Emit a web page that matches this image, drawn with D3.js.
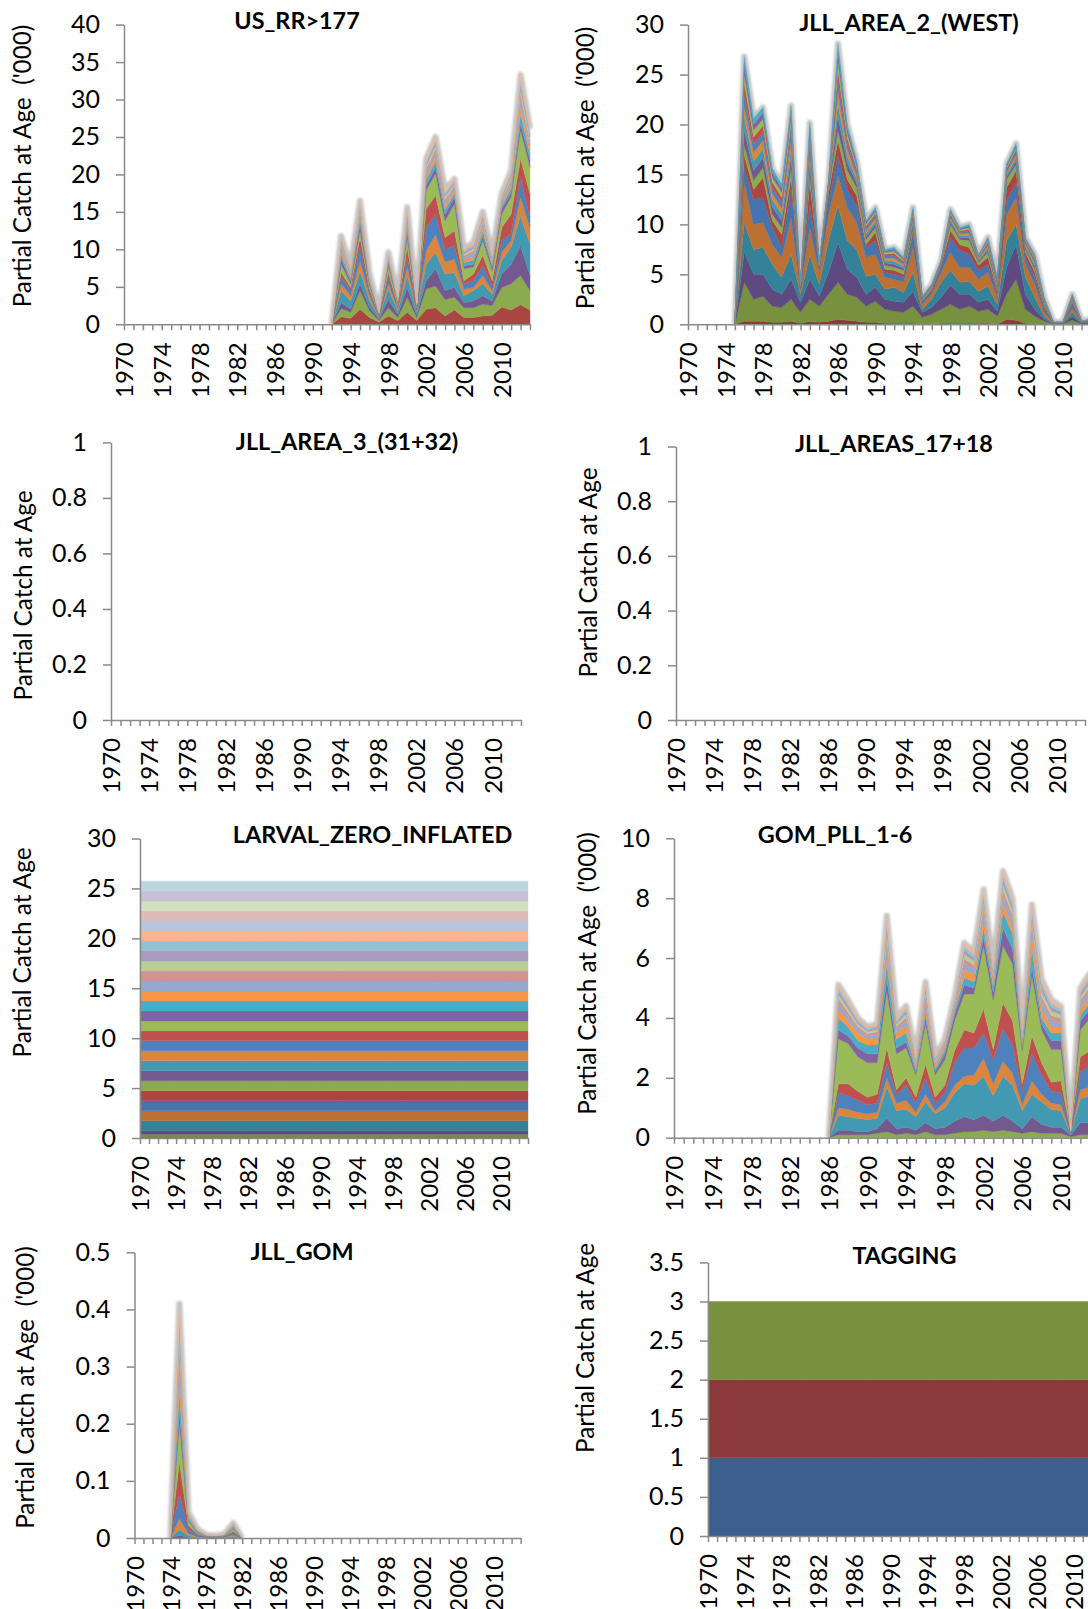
<!DOCTYPE html>
<html lang="en">
<head>
<meta charset="UTF-8">
<title>Partial catch at age</title>
<style>
  html, body { margin: 0; padding: 0; background: #fff; }
  svg { display: block; }
  text { font-family: Lato, "Open Sans", sans-serif; fill: #000; }
  .axis path, .axis line { stroke: #8a8a8a; stroke-width: 1.5; fill: none; }
  .axis text { font-size: 24px; fill: #000; }
  .y-axis text { font-size: 25px; }
  .panel-title { font-size: 23.4px; font-weight: 700; text-anchor: middle; }
  .y-title { font-size: 24.3px; text-anchor: middle; white-space: pre; }
</style>
</head>
<body>
<svg id="chart" width="1088" height="1609"></svg>
<script src="https://d3js.org/d3.v7.min.js"></script>
<script>
// ---- categories ----
const firstYear = 1970
const lastYear = 2013
const yearLabels = [1970, 1974, 1978, 1982, 1986, 1990, 1994, 1998, 2002, 2006, 2010]

// ---- y tick labels per panel ----
const usrrTicks = [0, 5, 10, 15, 20, 25, 30, 35, 40]
const area2Ticks = [0, 5, 10, 15, 20, 25, 30]
const unitTicks = [0, 0.2, 0.4, 0.6, 0.8, 1]
const larvalTicks = [0, 5, 10, 15, 20, 25, 30]
const gomPllTicks = [0, 2, 4, 6, 8, 10]
const jllGomTicks = [0, 0.1, 0.2, 0.3, 0.4, 0.5]
const taggingTicks = [0, 0.5, 1, 1.5, 2, 2.5, 3, 3.5]

// ---- US_RR>177 : ages 8..24, years 1992..2013 ----
const usrrFirst = 1992
const usrrAges = [8, 9, 10, 11, 12, 13, 14, 15, 16, 17, 18, 19, 20, 21, 22, 23, 24]
const usrrCatch = [
  [0,1.0,0.8,2.0,0.9,0.3,1.1,0.5,1.6,0.5,2.0,2.2,1.1,1.9,0.9,0.9,1.1,1.2,2.3,1.9,2.6,1.9],
  [0,1.1,0.8,2.5,0.9,0.2,1.1,0.4,2.0,0.4,2.7,2.9,2.2,1.7,1.3,1.3,1.6,1.3,2.6,3.5,3.9,2.6],
  [0,0.8,0.4,0.9,0.5,0.2,1.1,0.4,1.3,0.3,1.1,2.3,1.2,1.3,0.7,0.9,1.1,0.6,1.8,2.6,4.0,2.0],
  [0,1.6,1.1,1.7,0.9,0.2,1.4,0.5,1.6,0.5,2.2,2.2,2.2,2.0,0.9,1.4,1.6,0.9,1.8,2.3,4.0,4.2],
  [0,0.9,0.7,1.4,0.6,0.1,0.7,0.3,1.1,0.2,1.8,2.4,1.6,1.8,0.9,0.4,1.1,0.5,1.1,0.9,2.5,2.2],
  [0,0.9,0.7,1.8,0.5,0.1,0.9,0.2,1.3,0.2,3.1,2.7,1.7,1.8,0.7,0.9,1.3,0.6,1.6,0.9,2.6,1.4],
  [0,0.6,0.4,1.3,0.4,0.1,0.6,0.2,1.4,0.1,2.5,2.5,1.6,2.0,0.4,0.9,1.4,0.7,1.7,2.6,2.5,3.1],
  [0,1.1,0.5,0.9,0.5,0.1,0.9,0.3,1.3,0.2,2.5,2.9,2.2,3.6,1.6,0.9,2.0,1.3,1.8,2.3,3.8,3.6],
  [0,0.7,0.4,0.9,0.3,0.1,0.5,0.2,0.7,0.1,0.6,0.9,0.9,0.9,0.4,0.4,0.6,0.5,0.7,0.6,0.9,0.9],
  [0,.62,.36,.62,.26,.06,.26,.12,.66,.08,.72,.8,.64,.48,.44,.58,.64,.32,.4,.58,1.3,.84],
  [0,.47,.27,.47,.2,.05,.2,.09,.5,.06,.54,.6,.48,.36,.33,.44,.48,.24,.3,.44,.98,.63],
  [0,.43,.25,.43,.18,.04,.18,.08,.46,.06,.5,.56,.45,.34,.31,.41,.45,.22,.28,.41,.91,.59],
  [0,.37,.22,.37,.16,.04,.16,.07,.4,.05,.43,.48,.38,.29,.26,.35,.38,.19,.24,.35,.78,.5],
  [0,.34,.2,.34,.14,.03,.14,.07,.36,.04,.4,.44,.35,.26,.24,.32,.35,.18,.22,.32,.72,.46],
  [0,.31,.18,.31,.13,.03,.13,.06,.33,.04,.36,.4,.32,.24,.22,.29,.32,.16,.2,.29,.65,.42],
  [0,.28,.16,.28,.12,.03,.12,.05,.3,.04,.32,.36,.29,.22,.2,.26,.29,.14,.18,.26,.59,.38],
  [0,.28,.16,.28,.12,.03,.12,.05,.3,.04,.32,.36,.29,.22,.2,.26,.29,.14,.18,.26,.58,.38]
]

// ---- JLL_AREA_2_(WEST) : ages 2..17, years 1975..2013 ----
const area2First = 1975
const area2Ages = [2, 3, 4, 5, 6, 7, 8, 9, 10, 11, 12, 13, 14, 15, 16, 17]
const area2Catch = [
  [0,0.3,0.3,0.3,0.2,0.2,0.3,0.1,0.3,0.2,0.3,0.5,0.4,0.3,0.2,0.2,0.1,0.1,0.1,0.1,0,0,0.1,0.1,0.1,0.1,0.1,0.1,0,0.5,0.4,0.1,0,0,0,0,0,0,0],
  [0,3.9,2.2,2.5,1.6,1.5,2.2,1.1,2.2,1.6,2.7,3.7,2.6,2.4,1.6,2.1,1.4,1.2,1.1,1.7,0.7,1.0,1.4,1.9,1.4,1.7,1.2,1.4,0.8,2.5,4.1,1.4,0.8,0.3,0.05,0.05,0.4,0.05,0.1],
  [0,3.0,2.5,2.2,1.7,1.3,2.0,1.0,2.0,1.0,2.2,4.0,2.5,2.0,1.2,1.4,1.0,1.0,1.0,1.5,0.5,0.7,1.2,1.9,1.5,1.2,0.9,1.0,0.5,2.7,3.5,1.5,0.7,0.2,0.03,0.03,0.4,0.05,0.1],
  [0,3.0,2.5,2.7,2.5,1.7,2.5,0.8,2.4,1.2,3.2,3.7,2.9,2.8,1.8,1.3,1.0,1.4,1.0,1.9,0.3,0.8,1.5,1.5,1.2,1.3,1.1,1.3,0.7,2.7,2.0,1.7,1.2,0.3,0.02,0.02,0.4,0.05,0.05],
  [0,4.0,2.5,2.5,2.0,2.0,3.7,0.5,2.8,1.2,2.6,3.0,3.3,2.7,1.9,2.0,1.2,0.8,1.0,2.5,0.5,0.5,1.0,1.8,1.5,1.4,1.2,1.4,0.7,2.6,2.7,1.3,1.3,0.4,0.02,0.02,0.4,0.05,0.05],
  [0,1.5,2.5,2.5,1.7,1.0,3.0,0.2,2.3,0.5,1.4,2.0,1.8,1.7,1.0,1.4,0.5,0.5,0.5,1.3,0.3,0.3,0.5,1.5,1.7,1.3,0.9,0.8,0.5,1.4,1.5,0.7,0.7,0.3,0.01,0.01,0.4,0.02,0.05],
  [0,1.3,1.0,2.0,0.7,1.3,1.0,0.05,2.2,0.1,0.8,1.5,1.0,1.0,0.3,0.8,0.3,0.4,0.3,0.3,0.1,0.15,0.2,0.7,0.6,0.7,0.5,0.7,0.2,1.3,1.2,0.5,0.5,0.3,0.01,0.01,0.2,0.02,0.03],
  [0,1.0,0.9,1.0,0.6,0.7,1.0,0.05,0.8,0.05,0.4,1.0,0.9,0.8,0.5,0.5,0.4,0.3,0.4,0.3,0.1,0.15,0.1,0.6,0.5,0.7,0.3,0.5,0.2,0.8,0.6,0.3,0.3,0.2,0.01,0.01,0.2,0.01,0.02],
  [0,1.41,0.99,0.96,0.74,0.69,0.99,0.03,0.83,0.02,0.13,1.39,0.74,0.43,0.3,0.32,0.26,0.32,0.21,0.34,0.05,0.06,0.06,0.24,0.19,0.26,0.13,0.24,0.18,0.26,0.34,0.19,0.24,0.11,0.01,0.01,0.1,0.01,0.02],
  [0,1.32,0.93,0.9,0.69,0.65,0.93,0.03,0.78,0.02,0.12,1.31,0.69,0.41,0.29,0.3,0.24,0.3,0.2,0.32,0.05,0.06,0.06,0.23,0.18,0.24,0.12,0.23,0.17,0.24,0.32,0.18,0.23,0.11,0.01,0.01,0.09,0.01,0.02],
  [0,1.23,0.87,0.84,0.64,0.6,0.87,0.03,0.73,0.02,0.11,1.22,0.64,0.38,0.27,0.28,0.22,0.28,0.18,0.29,0.04,0.06,0.06,0.21,0.17,0.22,0.11,0.21,0.15,0.22,0.29,0.17,0.21,0.1,0.01,0.01,0.08,0.01,0.01],
  [0,1.14,0.81,0.78,0.6,0.56,0.81,0.03,0.68,0.02,0.1,1.13,0.6,0.35,0.25,0.26,0.21,0.26,0.17,0.27,0.04,0.05,0.05,0.2,0.16,0.21,0.1,0.2,0.14,0.21,0.27,0.16,0.2,0.09,0.01,0.01,0.08,0.01,0.01],
  [0,1.06,0.74,0.72,0.55,0.52,0.74,0.02,0.62,0.02,0.1,1.04,0.55,0.32,0.23,0.24,0.19,0.24,0.16,0.25,0.04,0.05,0.05,0.18,0.14,0.19,0.1,0.18,0.13,0.19,0.25,0.14,0.18,0.08,0.01,0.01,0.07,0.01,0.01],
  [0,0.97,0.68,0.66,0.51,0.47,0.68,0.02,0.57,0.02,0.09,0.96,0.51,0.3,0.21,0.22,0.18,0.22,0.14,0.23,0.03,0.04,0.04,0.17,0.13,0.18,0.09,0.17,0.12,0.18,0.23,0.13,0.17,0.08,0.01,0.01,0.07,0.01,0.01],
  [0,0.88,0.62,0.6,0.46,0.43,0.62,0.02,0.52,0.02,0.08,0.87,0.46,0.27,0.19,0.2,0.16,0.2,0.13,0.21,0.03,0.04,0.04,0.15,0.12,0.16,0.08,0.15,0.11,0.16,0.21,0.12,0.15,0.07,0,0,0.06,0,0.01],
  [0,0.79,0.56,0.54,0.41,0.39,0.56,0.02,0.47,0.01,0.07,0.78,0.41,0.24,0.17,0.18,0.14,0.18,0.12,0.19,0.03,0.04,0.04,0.14,0.11,0.14,0.07,0.14,0.1,0.14,0.19,0.11,0.14,0.06,0,0,0.05,0,0.01]
]

// ---- LARVAL_ZERO_INFLATED : flat over all years, ages 1..29 ----
const larvalAges = d3.range(1, 30)
const larvalByAge = [0.03, 0.04, 0.3, 0.36, 1, 1, 1, 1, 1, 1, 1, 1, 1, 1, 1, 1, 1, 1, 1, 1, 1, 1, 1, 1, 1, 1, 1, 1, 1]

// ---- GOM_PLL_1-6 : ages 9..24, years 1986..2013 ----
const gomFirst = 1986
const gomAges = [9, 10, 11, 12, 13, 14, 15, 16, 17, 18, 19, 20, 21, 22, 23, 24]
const gomCatch = [
  [0,.1,.1,.1,.1,.15,.2,.1,.15,.1,.2,.1,.1,.15,.2,.2,.25,.2,.25,.2,.15,.2,.15,.15,.15,.03,.1,.1],
  [0,.15,.15,.1,.1,.15,.45,.2,.2,.15,.3,.2,.25,.4,.5,.4,.5,.35,.5,.35,.15,.5,.3,.2,.2,.05,.4,.4],
  [0,.5,.45,.45,.4,.35,1.05,.6,.6,.45,.7,.5,.65,.95,1.1,1.15,1.3,.85,1.3,1.2,.6,.75,.75,.6,.55,.05,.8,.9],
  [0,.25,.25,.2,.2,.2,.3,.25,.3,.15,.25,.1,.2,.25,.25,.35,.6,.4,.5,.4,.2,.45,.25,.2,.2,.02,.3,.3],
  [0,.5,.45,.4,.3,.3,.5,.3,.5,.3,.55,.25,.3,.75,.95,.9,.85,.8,1.1,.95,.45,.9,.65,.4,.4,.02,.6,.7],
  [0,.3,.4,.3,.25,.3,.5,.15,.25,.2,.45,.2,.25,.4,.6,.5,.8,.35,.85,.8,.25,.6,.4,.3,.4,.02,.5,.5],
  [0,1.5,1.35,1.15,1.15,1.05,1.9,1.2,1.0,.75,1.35,.75,.85,1.0,1.2,1.3,2.1,1.65,1.9,1.9,1.1,2.0,1.1,1.1,1.05,.02,.9,1.1],
  [0,.3,.25,.3,.3,.3,.4,.2,.2,.1,.2,.1,.2,.2,.3,.2,.3,.25,.6,.5,.1,.3,.2,.3,.3,.01,.3,.3],
  [0,.4,.3,.25,.3,.3,.5,.3,.3,.1,.2,.1,.15,.15,.25,.2,.3,.2,.55,.5,.1,.6,.2,.25,.25,.01,.2,.2],
  [0,.3,.2,.25,.2,.25,.2,.2,.25,.1,.2,.1,.1,.1,.25,.25,.3,.15,.3,.2,.1,.4,.3,.2,.2,.01,.2,.2],
  [0,.18,.15,.11,.09,.1,.31,.11,.14,.07,.18,.07,.06,.08,.2,.17,.22,.11,.23,.22,.09,.24,.22,.2,.15,0,.15,.18],
  [0,.16,.14,.1,.08,.09,.28,.1,.13,.06,.16,.06,.05,.07,.18,.15,.2,.1,.21,.2,.08,.22,.2,.18,.14,0,.14,.16],
  [0,.14,.12,.09,.07,.08,.24,.09,.11,.05,.14,.05,.04,.06,.15,.13,.17,.09,.18,.17,.07,.19,.17,.15,.12,0,.12,.14],
  [0,.12,.1,.07,.06,.07,.21,.07,.1,.05,.12,.05,.04,.05,.14,.11,.15,.07,.16,.15,.06,.16,.15,.14,.1,0,.1,.12],
  [0,.11,.1,.07,.06,.06,.2,.07,.09,.04,.11,.04,.03,.05,.13,.1,.14,.07,.15,.14,.06,.15,.14,.13,.1,0,.1,.11],
  [0,.1,.08,.06,.05,.05,.17,.06,.08,.04,.1,.04,.03,.04,.11,.09,.12,.06,.13,.12,.05,.13,.12,.11,.08,.01,.08,.1]
]

// ---- JLL_GOM : ages 10..24, years 1974..1982 ----
const jllGomFirst = 1974
const jllGomAges = [10, 11, 12, 13, 14, 15, 16, 17, 18, 19, 20, 21, 22, 23, 24]
const jllGomCatch = [
  [0,.005,.001,0,0,0,0,.001,0],
  [0,.01,.003,.001,.0005,.0004,.0005,.002,0],
  [0,.019,.004,.001,.0005,.0004,.0006,.002,0],
  [0,.044,.008,.003,.001,.0008,.0012,.004,0],
  [0,.055,.006,.002,.0008,.0006,.001,.003,0],
  [0,.067,.007,.002,.0008,.0006,.001,.004,0],
  [0,.02,.002,.001,.0003,.0003,.0004,.001,0],
  [0,.035,.004,.002,.0005,.0004,.0006,.003,0],
  [0,.03,.003,.001,.0003,.0003,.0004,.002,0],
  [0,.028,.002,.0006,.0002,.0002,.0003,.001,0],
  [0,.025,.0015,.0005,.0002,.0002,.0002,.001,0],
  [0,.021,.001,.0005,.0002,.0001,.0002,.0007,0],
  [0,.019,.001,.0004,.0001,.0001,.0002,.0006,0],
  [0,.017,.001,.0004,.0001,.0001,.0001,.0005,0],
  [0,.015,.0005,.0003,.0001,.0001,.0001,.0004,0]
]

// ---- TAGGING : flat over all years, ages 1..3 ----
const taggingAges = [1, 2, 3]
const taggingByAge = [1, 1, 1]

// Excel-like colour cycle by age (1-based)
const ageColors = [
  '#3C5F8F', '#8C3A39', '#77913F', '#5F4A80', '#34829A', '#BC7133',
  '#4674AE', '#AB4542', '#8CAB4E', '#74598F', '#4399B1', '#DC853D',
  '#4F81BD', '#C0504D', '#9BBB59', '#8064A2', '#4BACC6', '#F79646',
  '#93A9CF', '#D19392', '#B9CD96', '#A99BBD', '#92C3D4', '#F9B590',
  '#B9C4DE', '#DEBAB9', '#D2DFC0', '#C9C0D6', '#BCD6E0', '#FBCFB5'
]

const svg = d3.select('#chart')
svg.append('defs').append('filter')
    .attr('id', 'soft')
    .attr('x', '-5%').attr('y', '-5%').attr('width', '110%').attr('height', '110%')
    .append('feGaussianBlur')
    .attr('stdDeviation', 1.1)

const allYears = d3.range(firstYear, lastYear + 1)

// rows for series given year by year
function rowsFromSeries(first, ages, values) {
    return values[0].map((_, i) => {
        const r = { year: first + i }
        ages.forEach((a, k) => { r[a] = values[k][i] || 0 })
        return r
    })
}

// rows for series that are flat over the years
function rowsFromFlat(ages, byAge) {
    return allYears.map(yr => {
        const r = { year: yr }
        ages.forEach((a, k) => { r[a] = byAge[k] })
        return r
    })
}

const panels = [
    { title: 'US_RR>177', x0: 124, x1: 530, yTop: 24.6, yBottom: 324.3, ticks: usrrTicks,
      titleX: 297, titleY: 29.3, yLabel: "Partial Catch at Age  ('000)", yLabelX: 30.5, yLabelY: 166,
      ages: usrrAges, rows: rowsFromSeries(usrrFirst, usrrAges, usrrCatch), halo: true },
    { title: 'JLL_AREA_2_(WEST)', x0: 688, x1: 1091, yTop: 24.6, yBottom: 324.3, ticks: area2Ticks,
      titleX: 909, titleY: 30.5, yLabel: "Partial Catch at Age  ('000)", yLabelX: 594, yLabelY: 168,
      ages: area2Ages, rows: rowsFromSeries(area2First, area2Ages, area2Catch), halo: true },
    { title: 'JLL_AREA_3_(31+32)', x0: 111, x1: 521, yTop: 442.4, yBottom: 720, ticks: unitTicks,
      titleX: 347, titleY: 450, yLabel: 'Partial Catch at Age', yLabelX: 32, yLabelY: 595.5 },
    { title: 'JLL_AREAS_17+18', x0: 676, x1: 1085, yTop: 446.5, yBottom: 720, ticks: unitTicks,
      titleX: 894, titleY: 451.7, yLabel: 'Partial Catch at Age', yLabelX: 596.7, yLabelY: 572.5 },
    { title: 'LARVAL_ZERO_INFLATED', x0: 140, x1: 528, yTop: 838.5, yBottom: 1138, ticks: larvalTicks,
      titleX: 372.6, titleY: 843.3, yLabel: 'Partial Catch at Age', yLabelX: 31, yLabelY: 952.5,
      ages: larvalAges, rows: rowsFromFlat(larvalAges, larvalByAge) },
    { title: 'GOM_PLL_1-6', x0: 674, x1: 1090, yTop: 838.3, yBottom: 1137.7, ticks: gomPllTicks,
      titleX: 835, titleY: 843.3, yLabel: "Partial Catch at Age  ('000)", yLabelX: 596, yLabelY: 973.5,
      ages: gomAges, rows: rowsFromSeries(gomFirst, gomAges, gomCatch), halo: true },
    { title: 'JLL_GOM', x0: 134.5, x1: 520.6, yTop: 1252.3, yBottom: 1538, ticks: jllGomTicks,
      titleX: 302, titleY: 1260, yLabel: "Partial Catch at Age  ('000)", yLabelX: 34, yLabelY: 1387.5,
      ages: jllGomAges, rows: rowsFromSeries(jllGomFirst, jllGomAges, jllGomCatch), halo: true },
    { title: 'TAGGING', x0: 708, x1: 1101, yTop: 1262.4, yBottom: 1536, ticks: taggingTicks,
      titleX: 904.5, titleY: 1264, yLabel: 'Partial Catch at Age', yLabelX: 594, yLabelY: 1348,
      ages: taggingAges, rows: rowsFromFlat(taggingAges, taggingByAge) }
]

panels.forEach(drawPanel)

function drawPanel(p) {
    const g = svg.append('g')

    const x = d3.scaleLinear().domain([firstYear, lastYear]).range([p.x0, p.x1])
    const y = d3.scaleLinear().domain([0, d3.max(p.ticks)]).range([p.yBottom, p.yTop])

    if (p.rows) {
        const stacked = d3.stack().keys(p.ages)(p.rows)
        const area = d3.area()
            .x(d => x(d.data.year))
            .y0(d => y(d[0]))
            .y1(d => y(d[1]))

        // grey fringe along the top of the stack
        if (p.halo) {
            const top = stacked[stacked.length - 1]
            g.append('path')
                .attr('d', d3.line().x(d => x(d.data.year)).y(d => y(d[1]))(top))
                .attr('fill', 'none')
                .attr('stroke', '#c4c4c4')
                .attr('stroke-width', 6)
                .attr('stroke-linejoin', 'round')
                .attr('filter', 'url(#soft)')
        }

        g.append('g')
            .selectAll('path')
            .data(stacked)
            .join('path')
            .attr('fill', s => ageColors[s.key - 1])
            .attr('stroke', s => ageColors[s.key - 1])
            .attr('stroke-width', 0.4)
            .attr('d', area)
    }

    // y axis
    g.append('g')
        .attr('class', 'axis y-axis')
        .attr('transform', `translate(${p.x0},0)`)
        .call(d3.axisLeft(y)
            .tickValues(p.ticks)
            .tickSize(8)
            .tickSizeOuter(0)
            .tickPadding(16)
            .tickFormat(d => String(+d.toFixed(2))))

    // x axis: a tick each year, label every fourth
    const xAxis = g.append('g')
        .attr('class', 'axis')
        .attr('transform', `translate(0,${p.yBottom})`)
        .call(d3.axisBottom(x)
            .tickValues(allYears)
            .tickSize(6)
            .tickSizeOuter(0)
            .tickFormat(d => yearLabels.includes(d) ? String(d) : ''))

    xAxis.selectAll('text')
        .attr('transform', 'rotate(-90)')
        .attr('text-anchor', 'end')
        .attr('x', -18)
        .attr('y', 0)
        .attr('dy', '0.36em')

    g.append('text')
        .attr('class', 'panel-title')
        .attr('x', p.titleX)
        .attr('y', p.titleY)
        .text(p.title)

    g.append('text')
        .attr('class', 'y-title')
        .attr('transform', `translate(${p.yLabelX},${p.yLabelY}) rotate(-90)`)
        .text(p.yLabel)
}
</script>
</body>
</html>
